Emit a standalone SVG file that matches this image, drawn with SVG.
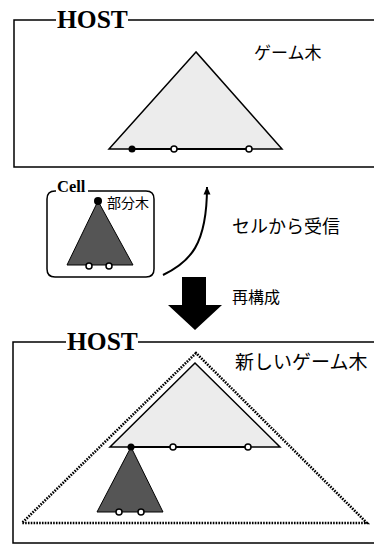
<svg xmlns="http://www.w3.org/2000/svg" width="374" height="546" viewBox="0 0 374 546">
<defs>
<style>
.frame{fill:none;stroke:#000;stroke-width:1.5}
.host{font-family:"Liberation Serif",serif;font-weight:bold;font-size:25.5px;fill:#000}
.cell{font-family:"Liberation Serif",serif;font-weight:bold;font-size:16.5px;fill:#000}
.jp{font-family:"Noto Sans CJK JP",sans-serif;fill:#000}
.light{fill:#ececec;stroke:#000;stroke-width:1.5;stroke-linejoin:miter}
.dark{fill:#555;stroke:#000;stroke-width:1}
.base{stroke:#000;stroke-width:2.2}
.open{fill:#fff;stroke:#000;stroke-width:1.5}
.fill{fill:#000}
.dotted{fill:none;stroke:#000;stroke-width:2.6;stroke-dasharray:1.6 1.2}
</style>
<marker id="ah" viewBox="0 0 8 12" refX="7.5" refY="6" markerWidth="8" markerHeight="12" orient="auto" markerUnits="userSpaceOnUse">
<path d="M0,2.5 L8,6 L0,9.5 z" fill="#000"/>
</marker>
</defs>

<g id="host-top">
<path class="frame" d="M56,20 H14 V167 H374 M128,20 H374"/>
<text class="host" x="57" y="28">HOST</text>
</g>

<g id="game-tree">
<polygon class="light" points="196,52 109,149 282,149"/>
<line class="base" x1="132" y1="149" x2="249" y2="149"/>
<circle class="fill" cx="132" cy="149" r="3.5"/>
<circle class="open" cx="174" cy="149" r="3"/>
<circle class="open" cx="249" cy="149" r="3"/>
<text class="jp" x="254" y="59" font-size="17">ゲーム木</text>
</g>

<g id="cell">
<path class="frame" d="M56,191 H55 Q47,191 47,199 V269 Q47,277 55,277 H146 Q154,277 154,269 V199 Q154,191 146,191 H88"/>
<text class="cell" x="57" y="192">Cell</text>
<polygon class="dark" points="98,201 67,265 133,265"/>
<circle class="fill" cx="98" cy="201" r="4"/>
<circle class="open" cx="89" cy="266" r="3"/>
<circle class="open" cx="109" cy="266" r="3"/>
<text class="jp" x="107" y="208" font-size="14">部分木</text>
</g>

<g id="connectors">
<path d="M163,275 C190,262 207,245 207,187" fill="none" stroke="#000" stroke-width="2" marker-end="url(#ah)"/>
<polygon points="182,277 206,277 206,305 222,305 195,330 168,305 182,305" fill="#000"/>
</g>

<g id="label-receive">
<text class="jp" x="232" y="233" font-size="18">セルから受信</text>
</g>
<g id="label-rebuild">
<text class="jp" x="232" y="303" font-size="16">再構成</text>
</g>

<g id="host-bottom">
<path class="frame" d="M66,342 H13 V543 H374 M138,342 H374"/>
<text class="host" x="67" y="350">HOST</text>
</g>

<g id="new-game-tree">
<polygon class="dotted" points="196,353 22,523 367,523"/>
<polygon class="light" points="195,363 110,447 280,447"/>
<line class="base" x1="131" y1="447" x2="248" y2="447"/>
<polygon class="dark" points="131,447 97,512 163,512"/>
<circle class="fill" cx="131" cy="447" r="3.5"/>
<circle class="open" cx="173" cy="447" r="3"/>
<circle class="open" cx="248" cy="447" r="3"/>
<circle class="open" cx="119" cy="512" r="3"/>
<circle class="open" cx="141" cy="512" r="3"/>
<text class="jp" x="235" y="369" font-size="19">新しいゲーム木</text>
</g>
</svg>
